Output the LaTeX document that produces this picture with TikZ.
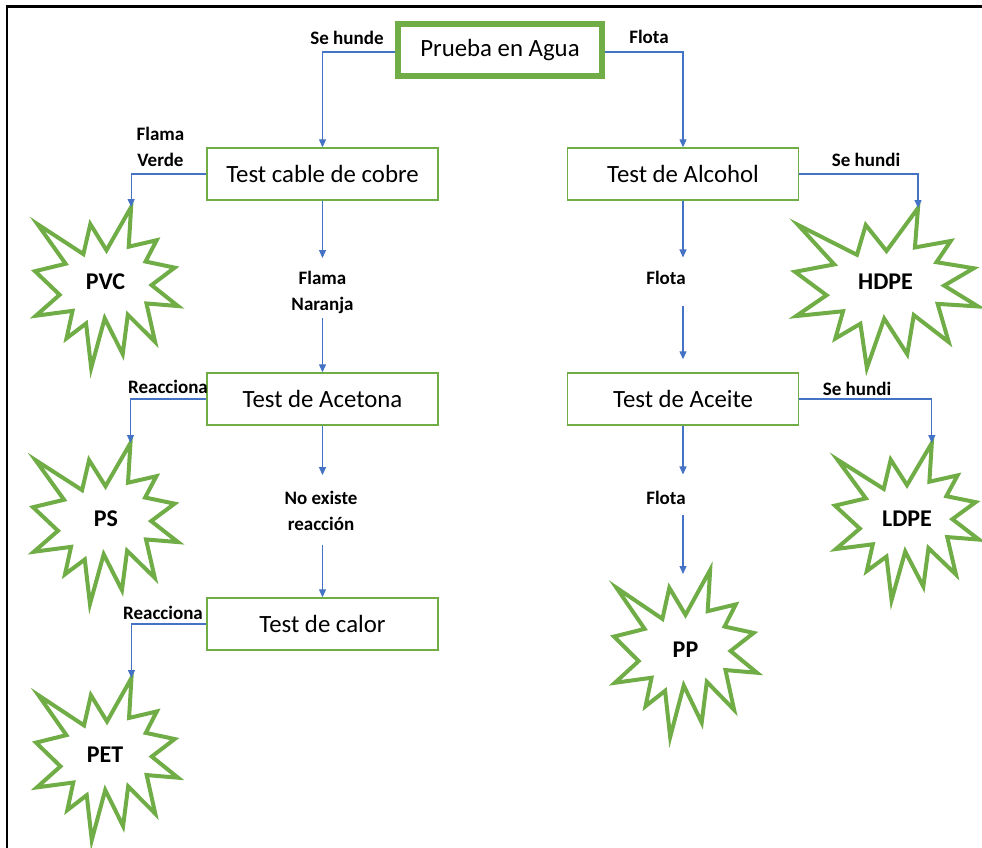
\documentclass[tikz,border=0pt]{standalone}
\usepackage{fontspec}
\setmainfont{Carlito}
\usetikzlibrary{arrows.meta,calc}

\definecolor{leafgreen}{HTML}{70AD47}
\definecolor{linkblue}{HTML}{4472C4}

% Explosion-shaped outline: #1 name, #2 left, #3 top, #4 width, #5 height
\newcommand{\burst}[5]{%
  \begin{scope}[shift={(#2pt,-#3pt)}, x=#4pt, y=-#5pt]
    \draw[burstline]
      (0.5000,0.2685) -- (0.6723,0.0000) -- (0.6553,0.2465) -- (0.8509,0.2063)
      -- (0.7732,0.3387) -- (0.9767,0.3767) -- (0.8151,0.4850) -- (1.0000,0.6153)
      -- (0.7795,0.5992) -- (0.8400,0.8377) -- (0.6491,0.6693) -- (0.6133,0.9137)
      -- (0.4876,0.6914) -- (0.3928,1.0000) -- (0.3572,0.7235) -- (0.2205,0.8156)
      -- (0.2624,0.6452) -- (0.0063,0.6753) -- (0.1723,0.5451) -- (0.0000,0.3988)
      -- (0.2142,0.3526) -- (0.0171,0.1063) -- (0.3385,0.2926) -- (0.3867,0.1063)
      -- cycle;
    \coordinate (#1-tip) at (0.6723,0);
  \end{scope}%
}

\tikzset{
  burstline/.style={leafgreen, line width=4pt, fill=white, line join=miter},
  testbox/.style={draw=leafgreen, line width=1.4pt, minimum width=231pt,
    minimum height=52pt, inner sep=0pt, font=\fontsize{24.8}{28}\selectfont},
  mainbox/.style={testbox, line width=6pt, minimum width=204pt},
  edgelabel/.style={font=\bfseries\fontsize{19}{27}\selectfont, inner sep=0pt,
    anchor=base},
  midlabel/.style={font=\bfseries\fontsize{19}{26}\selectfont, align=center,
    inner xsep=0pt, inner ysep=4pt},
  burstlabel/.style={font=\bfseries\fontsize{24}{28}\selectfont, inner sep=0pt},
  link/.style={linkblue, line width=1.2pt},
  linkarrow/.style={link, -{Triangle[width=7pt,length=8pt]}},
}

\begin{document}
\begin{tikzpicture}[x=1pt, y=-1pt]
  \useasboundingbox (0,0) rectangle (982,848);

  % frame edges
  \draw[line width=2.5pt] (7,848) -- (7,6.5) -- (982,6.5);

  % test boxes
  \node[mainbox] (agua)    at (500,50)    {Prueba en Agua};
  \node[testbox] (cobre)   at (322.5,174) {Test cable de cobre};
  \node[testbox] (acetona) at (322.5,399) {Test de Acetona};
  \node[testbox] (calor)   at (322.5,624) {Test de calor};
  \node[testbox] (alcohol) at (683,174)   {Test de Alcohol};
  \node[testbox] (aceite)  at (683,399)   {Test de Aceite};

  % result bursts
  \burst{pvc}{35}{207}{143}{161}
  \burst{ps}{33}{443}{145}{161}
  \burst{pet}{36}{678}{142}{162}
  \burst{hdpe}{795}{208}{183}{160}
  \burst{ldpe}{835}{443}{144}{157}
  \burst{pp}{614}{570}{143}{167}

  \node[burstlabel] (pvcname)  at (105.5,282) {PVC};
  \node[burstlabel] (psname)   at (106,519)   {PS};
  \node[burstlabel] (petname)  at (105,755)   {PET};
  \node[burstlabel] (hdpename) at (885.5,282) {HDPE};
  \node[burstlabel] (ldpename) at (907,519)   {LDPE};
  \node[burstlabel] (ppname)   at (685.5,650) {PP};

  % branch labels
  \node[edgelabel] (hunde)  at (347,45)  {Se hunde};
  \node[edgelabel] (flota0) at (649,44)  {Flota};
  \node[edgelabel] (hundi1) at (866,166) {Se hundi};
  \node[edgelabel] (hundi2) at (857,395) {Se hundi};
  \node[edgelabel] (reac1)  at (168,393) {Reacciona};
  \node[edgelabel] (reac2)  at (163,619) {Reacciona};
  \node[midlabel]  (verde)   at (160.5,147) {Flama\\Verde};
  \node[midlabel]  (naranja) at (322.5,292.5) {Flama\\Naranja};
  \node[midlabel]  (noreac)  at (321,511) {No existe\\reacción};
  \node[edgelabel, inner ysep=4pt] (flota1) at (666,284) {Flota};
  \node[edgelabel, inner ysep=4pt] (flota2) at (666,504) {Flota};
  \coordinate (ppin) at (683,574);

  % connectors
  \draw[linkarrow] ([yshift=-2pt]agua.west) -| (cobre.north);
  \draw[linkarrow] ([yshift=-2pt]agua.east) -| (alcohol.north);

  \draw[linkarrow] (cobre.west) -| (pvc-tip);
  \draw[linkarrow, shorten >=9pt] (cobre.south) -- (cobre.south |- naranja.north);
  \draw[linkarrow] (cobre.south |- naranja.south) -- (acetona.north);

  \draw[linkarrow] (acetona.west) -| (ps-tip);
  \draw[linkarrow, shorten >=12pt] (acetona.south) -- (acetona.south |- noreac.north);
  \draw[linkarrow, shorten <=10pt] (acetona.south |- noreac.south) -- (calor.north);

  \draw[linkarrow] (calor.west) -| (pet-tip);

  \draw[linkarrow] (alcohol.east) -| (hdpe-tip);
  \draw[linkarrow, shorten >=9pt] (alcohol.south) -- (alcohol.south |- flota1.north);
  \draw[linkarrow, shorten <=18pt, shorten >=13pt] (alcohol.south |- flota1.south) -- (aceite.north);

  \draw[linkarrow] (aceite.east) -| (ldpe-tip);
  \draw[linkarrow, shorten >=12pt] (aceite.south) -- (aceite.south |- flota2.north);
  \draw[linkarrow, shorten <=7pt] (aceite.south |- flota2.south) -- (ppin);
\end{tikzpicture}
\end{document}
